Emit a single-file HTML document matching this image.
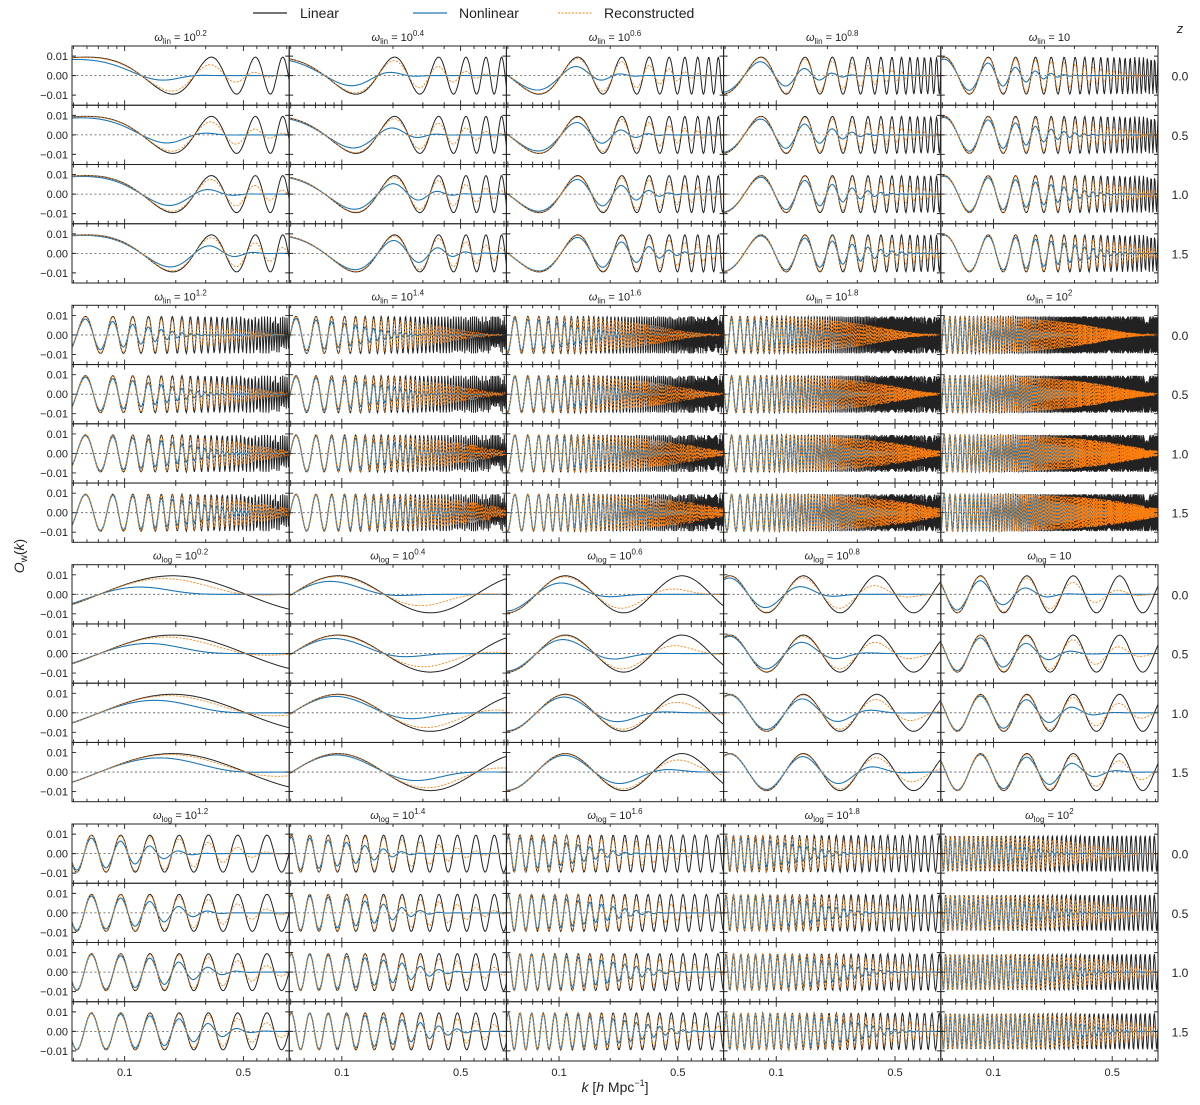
<!DOCTYPE html>
<html><head><meta charset="utf-8"><style>
body{margin:0;background:#fff;}
svg{display:block;font-family:"Liberation Sans","DejaVu Sans",sans-serif;}
</style></head><body>
<svg id="fig" width="1200" height="1105" viewBox="0 0 1200 1105" xmlns="http://www.w3.org/2000/svg">
<g>
<line x1="253" y1="13" x2="287" y2="13" stroke="#222" stroke-width="1.2"/>
<text x="300" y="18" font-size="14" fill="#222">Linear</text>
<line x1="413" y1="13" x2="447" y2="13" stroke="#1f77b4" stroke-width="1.2"/>
<text x="459" y="18" font-size="14" fill="#222">Nonlinear</text>
<line x1="558" y1="13" x2="592" y2="13" stroke="#ff7f0e" stroke-width="1" stroke-dasharray="2,1.5"/>
<text x="604" y="18" font-size="14" fill="#222">Reconstructed</text>
</g>
<text x="1180" y="33" font-size="13" font-style="italic" text-anchor="middle" fill="#222">z</text>
<text transform="translate(24,556) rotate(-90)" font-size="14" text-anchor="middle" fill="#222"><tspan font-style="italic">O</tspan><tspan font-size="10" dy="3">w</tspan><tspan dy="-3">(</tspan><tspan font-style="italic">k</tspan>)</text>
<text x="615" y="1092" font-size="14" text-anchor="middle" fill="#222"><tspan font-style="italic">k</tspan> [<tspan font-style="italic">h</tspan> Mpc<tspan font-size="9" dy="-6">−1</tspan><tspan dy="6">]</tspan></text>
<g id="panels"></g>
</svg>
<script>
// ---- data ----
const omegaExponents = [0.2, 0.4, 0.6, 0.8, 1.0, 1.2, 1.4, 1.6, 1.8, 2.0];
const redshifts = [0.0, 0.5, 1.0, 1.5];
const zLabels = ["0.0", "0.5", "1.0", "1.5"];
const nonlinearDamping = [9.4, 7.0, 5.3, 4.2];
const reconDamping = [3.2, 2.6, 2.1, 1.8];
const linAmplitude = [0.0095];
const linPhase = [-7.7];
const logPhase = [2.62, -0.37, 2.54, -0.36, -0.36, -0.36, -0.36, -0.36, -0.36, -0.36];
const yTickValues = [-0.01, 0.0, 0.01];
const yTickLabels = ["−0.01", "0.00", "0.01"];
const xMajorTicks = [0.1, 0.5];
const xMajorLabels = ["0.1", "0.5"];
const xMinorTicks = [0.05, 0.06, 0.07, 0.08, 0.09, 0.2, 0.3, 0.4, 0.6, 0.7, 0.8, 0.9];
const kMin = 0.049, kMax = 0.93;
const yMax = 0.0152;

// ---- layout ----
const NS = "http://www.w3.org/2000/svg";
const colX0 = 72, colW = 217.2, rowH = 59.25, groupTops = [46, 305.3, 564.7, 824];
const root = document.getElementById('panels');
function el(tag, attrs, parent) {
  const e = document.createElementNS(NS, tag);
  for (const k in attrs) e.setAttribute(k, attrs[k]);
  (parent || root).appendChild(e);
  return e;
}
function xScale(k, x0) { return x0 + (Math.log10(k) - Math.log10(kMin)) / (Math.log10(kMax) - Math.log10(kMin)) * colW; }
function yScale(v, y0) { return y0 + rowH / 2 - v / yMax * (rowH / 2); }

function linSignal(type, w, idx, k) {
  if (type === 'lin') return linAmplitude[0] * Math.cos(15 * w * k + linPhase[0]);
  return linAmplitude[0] * Math.cos(w * Math.log(k) + logPhase[idx]);
}
function pathFor(type, w, idx, x0, y0, damp) {
  const cycles = type === 'lin' ? 15 * w * (kMax - kMin) / 6.283 : w * Math.log(kMax / kMin) / 6.283;
  const n = Math.max(300, Math.ceil(cycles * 8));
  let d = '';
  const l0 = Math.log(kMin), l1 = Math.log(kMax);
  for (let i = 0; i <= n; i++) {
    const k = Math.exp(l0 + (l1 - l0) * i / n);
    let v = linSignal(type, w, idx, k);
    if (damp > 0) v *= Math.exp(-0.5 * damp * damp * k * k);
    d += (i ? 'L' : 'M') + xScale(k, x0).toFixed(1) + ' ' + yScale(v, y0).toFixed(1);
  }
  return d;
}
function sup(e) { return e === 1 ? '' : (e === 2 ? '2' : String(e)); }

for (let g = 0; g < 4; g++) {
  const type = g < 2 ? 'lin' : 'log';
  const gt = groupTops[g];
  for (let c = 0; c < 5; c++) {
    const idx = (g % 2) * 5 + c;
    const ex = omegaExponents[idx];
    const w = Math.pow(10, ex);
    const x0 = colX0 + c * colW;
    // title
    const t = el('text', {x: x0 + colW / 2, y: gt - 5, 'font-size': 11, 'text-anchor': 'middle', fill: '#222'});
    
    
    const exTxt = ex === 1 ? '' : (ex === 2 ? '2' : ex.toFixed(1));
    t.innerHTML = '<tspan font-style="italic">ω</tspan><tspan font-size="8" dy="3">' + type + '</tspan><tspan dy="-3"> = 10</tspan>' + (exTxt ? '<tspan font-size="8" dy="-5">' + exTxt + '</tspan>' : '');
    for (let r = 0; r < 4; r++) {
      const y0 = gt + r * rowH;
      const pg = el('g', {});
      
      
      const cid = 'cp' + g + c + r;
      const cp = el('clipPath', {id: cid}, pg);
      el('rect', {x: x0, y: y0, width: colW, height: rowH}, cp);
      const zero = el('line', {x1: x0, x2: x0 + colW, y1: yScale(0, y0), y2: yScale(0, y0), stroke: '#555', 'stroke-width': 0.8, 'stroke-dasharray': '2,2.5'}, pg);
      
      
      const cg = el('g', {'clip-path': 'url(#' + cid + ')'}, pg);
      const pl = el('path', {d: pathFor(type, w, idx, x0, y0, 0), fill: 'none', stroke: '#222', 'stroke-width': 1}, cg);
      
      
      const pn = el('path', {d: pathFor(type, w, idx, x0, y0, nonlinearDamping[r]), fill: 'none', stroke: '#1f77b4', 'stroke-width': 1.1}, cg);
      
      
      const pr = el('path', {d: pathFor(type, w, idx, x0, y0, reconDamping[r]), fill: 'none', stroke: '#ff7f0e', 'stroke-width': 0.9, 'stroke-dasharray': '2,1.5'}, cg);
      
      
      const fr = el('rect', {x: x0, y: y0, width: colW, height: rowH, fill: 'none', stroke: '#222', 'stroke-width': 1}, pg);
      
      
      // ticks
      let td = '';
      xMajorTicks.forEach(k => { const x = xScale(k, x0); td += 'M' + x + ' ' + y0 + 'v5M' + x + ' ' + (y0 + rowH) + 'v-5'; });
      xMinorTicks.forEach(k => { const x = xScale(k, x0); if (x > x0 + 1 && x < x0 + colW - 1) td += 'M' + x + ' ' + y0 + 'v3M' + x + ' ' + (y0 + rowH) + 'v-3'; });
      yTickValues.forEach(v => { const y = yScale(v, y0); td += 'M' + x0 + ' ' + y + 'h4M' + (x0 + colW) + ' ' + y + 'h-4'; });
      const tk = el('path', {d: td, stroke: '#222', 'stroke-width': 0.9, fill: 'none'}, pg);
      
      
      if (c === 0) {
        yTickValues.forEach((v, i) => {
          const lt = el('text', {x: x0 - 4, y: yScale(v, y0) + 4, 'font-size': 11, 'text-anchor': 'end', fill: '#222'}, pg);
          
          
          lt.textContent = yTickLabels[i];
        });
      }
      if (c === 4) {
        const zt = el('text', {x: 1180, y: y0 + rowH / 2 + 5, 'font-size': 12, 'text-anchor': 'middle', fill: '#222'}, pg);
        
        
        zt.textContent = zLabels[r];
      }
      if (g === 3 && r === 3) {
        xMajorTicks.forEach((k, i) => {
          const xt = el('text', {x: xScale(k, x0), y: y0 + rowH + 15, 'font-size': 11, 'text-anchor': 'middle', fill: '#222'}, pg);
          
          
          xt.textContent = xMajorLabels[i];
        });
      }
    }
  }
}
</script>
</body></html>
